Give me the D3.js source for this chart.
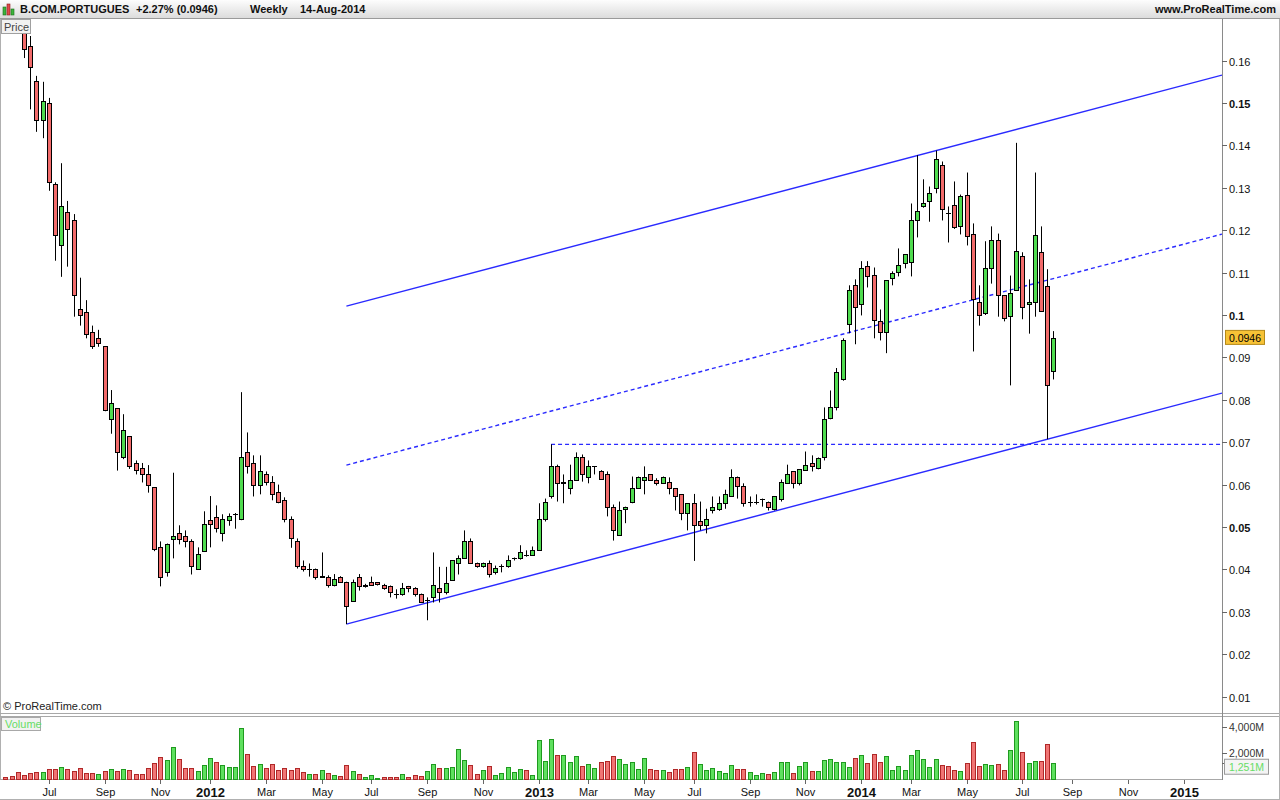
<!DOCTYPE html>
<html><head><meta charset="utf-8">
<script src="https://cdn.jsdelivr.net/npm/d3@7"></script>
<style>body{margin:0;background:#fff;} svg{display:block;font-family:"Liberation Sans",Arial,sans-serif;}</style>
</head><body><svg id="c" width="1280" height="800"></svg>
<script>
// ---------- DATA ----------
const title = "B.COM.PORTUGUES";
const changeText = "+2.27% (0.0946)";
const periodText = "Weekly";
const dateText = "14-Aug-2014";
const firstWeek = new Date(2011, 4, 16); // Monday of first weekly bar
const openP = [0.192,0.186,0.181,0.1725,0.1634,0.1552,0.146,0.1499,0.1309,0.1166,
0.1242,0.1224,0.1013,0.1006,0.096,0.0945,0.0926,0.0754,0.078,0.0664,
0.0714,0.065,0.0638,0.0624,0.0594,0.0454,0.0395,0.0471,0.0487,0.0478,
0.0466,0.0401,0.0443,0.0516,0.0523,0.0485,0.0517,0.053,0.0518,0.0678,
0.0652,0.06,0.0624,0.0605,0.0582,0.0563,0.0518,0.0466,0.0409,0.0401,
0.0402,0.0384,0.0383,0.0364,0.0381,0.0371,0.0326,0.0383,0.036,0.0371,
0.037,0.0364,0.036,0.0342,0.0341,0.036,0.0355,0.0341,0.0329,0.0334,
0.0357,0.0346,0.0374,0.0416,0.0426,0.0468,0.0416,0.0409,0.0416,0.0393,
0.0407,0.0409,0.0426,0.0426,0.0433,0.0433,0.0445,0.052,0.0572,0.0643,
0.0607,0.0591,0.0612,0.0664,0.0619,0.0643,0.0631,0.0624,0.0548,0.048,
0.0543,0.056,0.0591,0.0612,0.0624,0.0612,0.0603,0.0607,0.0591,0.0577,
0.0532,0.0556,0.0513,0.0504,0.0539,0.0543,0.0556,0.0572,0.0619,0.0596,
0.056,0.056,0.0567,0.056,0.0543,0.0567,0.0603,0.0631,0.0603,0.0634,
0.065,0.0638,0.0664,0.0756,0.0784,0.085,0.0978,0.107,0.1025,0.1115,
0.1094,0.0985,0.0959,0.1088,0.1101,0.1122,0.1124,0.1223,0.1258,0.1268,
0.1299,0.1353,0.124,0.1259,0.121,0.1283,0.1192,0.103,0.1004,0.1112,
0.1176,0.1046,0.0997,0.1058,0.1138,0.1025,0.103,0.1148,0.1068,0.0867];
const highP = [0.195,0.188,0.183,0.174,0.1658,0.1564,0.155,0.1512,0.1313,0.1358,
0.1269,0.1238,0.1088,0.1035,0.0975,0.0965,0.0926,0.0823,0.078,0.0766,
0.0714,0.0657,0.0651,0.0646,0.0594,0.0466,0.0461,0.0628,0.0504,0.0492,
0.0471,0.0452,0.0537,0.0573,0.0551,0.053,0.0532,0.0533,0.0818,0.0723,
0.0669,0.0669,0.0631,0.062,0.06,0.057,0.0525,0.0473,0.0421,0.0414,
0.0402,0.044,0.0386,0.0389,0.0384,0.0371,0.0376,0.0389,0.0366,0.0383,
0.037,0.0366,0.0362,0.0353,0.0368,0.0361,0.0358,0.0343,0.0334,0.044,
0.0406,0.0406,0.0421,0.0433,0.0492,0.0473,0.0416,0.0416,0.0421,0.0409,
0.0412,0.0433,0.0428,0.0457,0.0445,0.0454,0.0556,0.0567,0.0695,0.0647,
0.0624,0.0647,0.0676,0.0671,0.0657,0.0643,0.0634,0.0631,0.0553,0.056,
0.0548,0.0619,0.0619,0.0643,0.0624,0.0615,0.0619,0.0617,0.0591,0.0577,
0.0556,0.0578,0.056,0.0543,0.0572,0.0572,0.0588,0.0636,0.0619,0.0603,
0.0572,0.0577,0.0567,0.056,0.0572,0.0612,0.0647,0.0631,0.0636,0.0678,
0.0669,0.0664,0.0782,0.0822,0.0875,0.0945,0.107,0.1084,0.1127,0.1127,
0.1112,0.1013,0.1082,0.1103,0.1157,0.1143,0.1263,0.1377,0.132,0.1303,
0.1388,0.1362,0.1256,0.1315,0.1284,0.1336,0.1216,0.107,0.1174,0.1209,
0.1192,0.1046,0.1093,0.1406,0.1148,0.1084,0.1336,0.1209,0.1108,0.0962];
const lowP = [0.184,0.179,0.1685,0.1606,0.1485,0.1432,0.1417,0.1293,0.1128,0.109,
0.1114,0.0996,0.0975,0.0945,0.092,0.0925,0.0773,0.072,0.0633,0.066,
0.0637,0.0624,0.0605,0.0581,0.0443,0.036,0.0383,0.0426,0.0459,0.0452,
0.0388,0.04,0.0441,0.0452,0.0487,0.0466,0.0503,0.0496,0.0516,0.0626,
0.0572,0.0577,0.0598,0.0563,0.0556,0.0511,0.0451,0.0402,0.0395,0.0383,
0.0376,0.0381,0.0357,0.036,0.0371,0.0271,0.0324,0.035,0.0357,0.0364,
0.0362,0.0352,0.0334,0.0331,0.0338,0.0346,0.0336,0.0322,0.028,0.0322,
0.0322,0.0341,0.0374,0.0388,0.0426,0.0416,0.0404,0.0404,0.0381,0.0388,
0.0393,0.0404,0.0421,0.0423,0.043,0.0433,0.0445,0.0513,0.0567,0.056,
0.0556,0.0577,0.0612,0.0607,0.0603,0.0624,0.0613,0.0525,0.0468,0.048,
0.0509,0.0556,0.0591,0.0577,0.0612,0.0598,0.0603,0.0577,0.0539,0.0516,
0.0492,0.042,0.0492,0.0485,0.0532,0.0538,0.0543,0.0572,0.0567,0.0548,
0.0548,0.0553,0.0548,0.0539,0.0539,0.056,0.0603,0.0591,0.0598,0.0634,
0.0631,0.0636,0.0657,0.0754,0.0775,0.0845,0.0957,0.0931,0.0999,0.1065,
0.0945,0.094,0.091,0.107,0.1091,0.111,0.1091,0.1183,0.1253,0.122,
0.1287,0.1223,0.1171,0.1203,0.119,0.1164,0.0914,0.0975,0.1,0.1074,
0.0996,0.0985,0.0834,0.1058,0.099,0.0956,0.0996,0.1009,0.0707,0.0848];
const closeP = [0.186,0.181,0.174,0.1627,0.1585,0.146,0.1505,0.1313,0.1188,0.1258,
0.1204,0.1046,0.1001,0.0955,0.0928,0.0933,0.0777,0.0792,0.0678,0.0728,
0.0643,0.0634,0.0624,0.0598,0.0447,0.0383,0.0459,0.0478,0.0471,0.0466,
0.0409,0.0436,0.0506,0.0506,0.0497,0.0518,0.0525,0.053,0.0664,0.0643,
0.06,0.0631,0.0607,0.0577,0.0558,0.0518,0.0473,0.0409,0.04,0.0401,
0.0383,0.0383,0.0364,0.0377,0.0371,0.0313,0.037,0.036,0.0364,0.0364,
0.0365,0.0357,0.0346,0.0342,0.0357,0.0355,0.0342,0.0324,0.0329,0.0364,
0.0346,0.0369,0.0421,0.0426,0.0468,0.0416,0.0409,0.0416,0.0388,0.0404,
0.0407,0.0421,0.0426,0.044,0.0433,0.0445,0.052,0.056,0.0643,0.0603,
0.0603,0.0612,0.0664,0.0624,0.0643,0.0643,0.0613,0.0548,0.0492,0.0539,
0.0548,0.0591,0.0619,0.0619,0.0612,0.0603,0.0619,0.0591,0.0572,0.0532,
0.0556,0.0504,0.0504,0.052,0.0548,0.0556,0.0577,0.0619,0.0596,0.0556,
0.056,0.056,0.0567,0.0548,0.0572,0.0607,0.0624,0.0603,0.0636,0.0647,
0.0643,0.0662,0.0754,0.0784,0.0865,0.094,0.1058,0.1018,0.111,0.1091,
0.0988,0.0961,0.1082,0.11,0.1119,0.1143,0.1223,0.1245,0.1263,0.1287,
0.1367,0.1249,0.124,0.1207,0.128,0.1186,0.1037,0.1,0.111,0.1176,
0.1047,0.0992,0.1053,0.1152,0.1018,0.103,0.1188,0.1009,0.0834,0.0946];
const volumeM = [128,205,564,282,436,564,564,744,744,897,
744,590,820,436,436,359,590,744,590,744,
667,359,359,820,1205,1667,1436,2436,1513,820,
820,590,1051,1590,1282,1051,897,897,3897,1897,
974,1128,820,1128,667,820,667,820,513,359,
359,667,436,282,205,1051,590,359,128,282,
51,128,128,128,359,128,282,205,590,1128,
820,820,897,2282,1436,1051,359,667,974,282,
436,897,513,744,667,282,2974,1359,3051,1820,
1820,1282,1744,974,1128,820,1282,1359,1744,1513,
1128,1282,744,1590,744,667,667,513,744,744,
897,2051,1128,667,820,641,487,1103,795,795,
564,333,487,410,564,1333,1333,487,1026,1333,
641,641,1487,1564,1333,1333,949,1641,1872,1256,
1949,1333,1795,718,1026,718,1872,2256,1564,949,
1564,1103,1026,718,641,1256,2872,1026,1179,1103,
1179,718,2256,4487,2103,1256,1410,1410,2718,1251];
const priceTicks = [0.01,0.02,0.03,0.04,0.05,0.06,0.07,0.08,0.09,0.1,0.11,0.12,0.13,0.14,0.15,0.16];
const boldPriceTicks = [0.05,0.1,0.15];
const volTicks = [2000,4000];
const lastPrice = 0.0946;
const lastVolume = 1251;
const monthsShown = [0,2,4,6,8,10];
const monthNames = ["Jan","Feb","Mar","Apr","May","Jun","Jul","Aug","Sep","Oct","Nov","Dec"];
// channel lines: [barIndex, price]
const lowerLine = [[55,0.0271],[168,0.0707]];
const upperLine = [[55,0.1021],[168,0.1457]];
const supportLevel = {fromIndex:88, price:0.0695};
const axisEnd = new Date(2015, 1, 20);

// ---------- LAYOUT ----------
const W=1280, H=800;
const plotL=0, plotR=1222, priceTop=19, priceBot=713, volTop=716, volBot=779;
const svg = d3.select("#c");
const dates = openP.map((_,i)=>d3.timeWeek.offset(firstWeek,i));
const x = d3.scaleTime().domain([dates[0], dates[dates.length-1]]).range([5.3,1053.4]);
const y = d3.scaleLinear().domain([0,0.16]).range([739,60.6]);
const yv = d3.scaleLinear().domain([0,4000]).range([volBot,727]);

const RED="#f26b6b", GREEN="#4fdb4f";

// defs
const defs = svg.append("defs");
const g1 = defs.append("linearGradient").attr("id","hdr").attr("x1",0).attr("x2",0).attr("y1",0).attr("y2",1);
g1.append("stop").attr("offset","0%").attr("stop-color","#fdfdfd");
g1.append("stop").attr("offset","100%").attr("stop-color","#dcdcdc");
defs.append("clipPath").attr("id","pclip").append("rect").attr("x",plotL).attr("y",priceTop).attr("width",plotR-plotL).attr("height",priceBot-priceTop);

// header
svg.append("rect").attr("x",0).attr("y",0).attr("width",W).attr("height",18).attr("fill","url(#hdr)");
svg.append("line").attr("x1",0).attr("x2",W).attr("y1",18.5).attr("y2",18.5).attr("stroke","#9a9a9a");
// icon
const ic = svg.append("g").attr("transform","translate(3,3)");
ic.append("rect").attr("x",0).attr("y",4).attr("width",3).attr("height",8).attr("fill","#3cb43c").attr("stroke","#1c6d1c").attr("stroke-width",0.6);
ic.append("rect").attr("x",4).attr("y",1).attr("width",3).attr("height",11).attr("fill","#e24a4a").attr("stroke","#8b1c1c").attr("stroke-width",0.6);
ic.append("rect").attr("x",8).attr("y",6).attr("width",3).attr("height",6).attr("fill","#3cb43c").attr("stroke","#1c6d1c").attr("stroke-width",0.6);
const ht = svg.append("g").attr("font-size",11).attr("font-weight","bold").attr("fill","#111");
ht.append("text").attr("x",20).attr("y",13).text(title);
ht.append("text").attr("x",136).attr("y",13).text(changeText);
ht.append("text").attr("x",250).attr("y",13).text(periodText);
ht.append("text").attr("x",300).attr("y",13).text(dateText);
ht.append("text").attr("x",1276).attr("y",13).attr("text-anchor","end").text("www.ProRealTime.com");

// panel frames
svg.append("line").attr("x1",0.5).attr("x2",0.5).attr("y1",19).attr("y2",780).attr("stroke","#b0b0b0");
svg.append("line").attr("x1",0).attr("x2",W).attr("y1",713.5).attr("y2",713.5).attr("stroke","#a8a8a8");
svg.append("line").attr("x1",0).attr("x2",W).attr("y1",716.5).attr("y2",716.5).attr("stroke","#a8a8a8");
svg.append("line").attr("x1",0).attr("x2",plotR).attr("y1",779.5).attr("y2",779.5).attr("stroke","#a8a8a8");
svg.append("line").attr("x1",plotR+0.5).attr("x2",plotR+0.5).attr("y1",19).attr("y2",780).attr("stroke","#8a8a8a");
svg.append("line").attr("x1",W-0.5).attr("x2",W-0.5).attr("y1",19).attr("y2",800).attr("stroke","#b0b0b0");
svg.append("line").attr("x1",0).attr("x2",W).attr("y1",799.5).attr("y2",799.5).attr("stroke","#b0b0b0");

// price axis
const pa = svg.append("g");
priceTicks.forEach(t=>{
  const yy = Math.round(y(t))+0.5;
  pa.append("line").attr("x1",plotR).attr("x2",plotR+5).attr("y1",yy).attr("y2",yy).attr("stroke","#666");
  pa.append("text").attr("x",1229).attr("y",yy+4).attr("font-size",11)
    .attr("font-weight",boldPriceTicks.includes(t)?"bold":"normal").attr("fill","#111")
    .text(d3.format("")(+t.toFixed(2)));
});

// clip group
const pg = svg.append("g").attr("clip-path","url(#pclip)");

// channel lines
const xi = i=>x(d3.timeWeek.offset(firstWeek,i));
function lineAt(anch, xp){ // price at pixel xp
  const [a,b]=anch; const xa=xi(a[0]), xb=xi(b[0]);
  return a[1]+(b[1]-a[1])*(xp-xa)/(xb-xa);
}
const chanLine = (anch, dash)=>{
  const x0 = xi(anch[0][0]);
  pg.append("line").attr("x1",x0).attr("x2",plotR).attr("y1",y(lineAt(anch,x0))).attr("y2",y(lineAt(anch,plotR)))
    .attr("stroke","#2a2aff").attr("stroke-width",1.4).attr("stroke-dasharray",dash||null);
};
chanLine(upperLine);
chanLine(lowerLine);
const midLine = [[lowerLine[0][0],(lowerLine[0][1]+upperLine[0][1])/2],[lowerLine[1][0],(lowerLine[1][1]+upperLine[1][1])/2]];
chanLine(midLine,"4,3");
// support horizontal
pg.append("line").attr("x1",xi(supportLevel.fromIndex)).attr("x2",plotR).attr("y1",y(supportLevel.price)).attr("y2",y(supportLevel.price))
  .attr("stroke","#2a2aff").attr("stroke-width",1.3).attr("stroke-dasharray","4,3");

// candles
const cg = pg.append("g");
openP.forEach((o,i)=>{
  const cx = Math.round(xi(i));
  const c = closeP[i];
  cg.append("line").attr("x1",cx+0.5).attr("x2",cx+0.5).attr("y1",y(highP[i])).attr("y2",y(lowP[i])).attr("stroke","#000").attr("stroke-width",1);
  const top = Math.round(y(Math.max(o,c))), bot = Math.round(y(Math.min(o,c)));
  if (bot-top < 1) {
    cg.append("line").attr("x1",cx-2).attr("x2",cx+3).attr("y1",top+0.5).attr("y2",top+0.5).attr("stroke","#000");
  } else {
    cg.append("rect").attr("x",cx-1.5).attr("y",top+0.5).attr("width",4).attr("height",bot-top)
      .attr("fill", c>=o?GREEN:RED).attr("stroke","#000").attr("stroke-width",1);
  }
});

// last price label
const ly = y(lastPrice);
svg.append("rect").attr("x",1225.5).attr("y",ly-7.5).attr("width",39).attr("height",14).attr("fill","#f7c236").attr("stroke","#b58a1a");
svg.append("text").attr("x",1245).attr("y",ly+4).attr("text-anchor","middle").attr("font-size",10.5).attr("fill","#000").text(lastPrice.toString());

// labels
svg.append("rect").attr("x",1.5).attr("y",19.5).attr("width",29).attr("height",14).attr("fill","#f2f2f2").attr("stroke","#a0a0a0");
svg.append("text").attr("x",4).attr("y",30.5).attr("font-size",11).attr("fill","#444").text("Price");
svg.append("text").attr("x",3).attr("y",710).attr("font-size",11).attr("fill","#222").text("© ProRealTime.com");

// volume
const vg = svg.append("g");
volumeM.forEach((v,i)=>{
  const cx = Math.round(xi(i));
  const up = i===0 ? closeP[i]>=openP[i] : closeP[i]>=closeP[i-1];
  const top = Math.round(yv(v));
  vg.append("rect").attr("x",cx-1.5).attr("y",top+0.5).attr("width",4).attr("height",Math.max(0,volBot-top))
    .attr("fill",up?"#5ee05e":"#f07474").attr("stroke",up?"#1f9a1f":"#b02828").attr("stroke-width",1);
});
svg.append("rect").attr("x",1.5).attr("y",717.5).attr("width",39).attr("height",13).attr("fill","#f2f2f2").attr("stroke","#a8a8a8");
svg.append("text").attr("x",5).attr("y",728).attr("font-size",11).attr("fill","#66dd66").text("Volume");
volTicks.forEach(t=>{
  const yy = Math.round(yv(t))+0.5;
  svg.append("line").attr("x1",plotR).attr("x2",plotR+5).attr("y1",yy).attr("y2",yy).attr("stroke","#666");
  svg.append("text").attr("x",1229).attr("y",yy+3).attr("font-size",10.5).attr("fill","#333").text(d3.format(",")(t)+"M");
});
const lvy = yv(lastVolume);
svg.append("line").attr("x1",plotR).attr("x2",plotR+5).attr("y1",Math.round(lvy)+0.5).attr("y2",Math.round(lvy)+0.5).attr("stroke","#666");
svg.append("rect").attr("x",1224.5).attr("y",lvy-3.5).attr("width",44).attr("height",15).attr("fill","#f4f4f4").attr("stroke","#9a9a9a");
svg.append("text").attr("x",1246.5).attr("y",lvy+8).attr("text-anchor","middle").attr("font-size",10.5).attr("fill","#66dd66").text(d3.format(",")(lastVolume)+"M");

// x axis
const ticks=[];
for (let d=new Date(2011,6,1); d<=axisEnd; d=d3.timeMonth.offset(d,1)) {
  if (monthsShown.includes(d.getMonth())) ticks.push(d3.timeMonday.ceil(d));
}
const xa = svg.append("g");
ticks.forEach(t=>{
  const xx = Math.round(x(t))+0.5;
  xa.append("line").attr("x1",xx).attr("x2",xx).attr("y1",780).attr("y2",784).attr("stroke","#666");
  const isYear = t.getMonth()===0;
  xa.append("text").attr("x",xx).attr("y",isYear?797:796).attr("text-anchor","middle")
    .attr("font-size",isYear?13:11).attr("font-weight",isYear?"bold":"normal").attr("fill","#111")
    .text(isYear? t.getFullYear() : monthNames[t.getMonth()]);
});
</script></body></html>
